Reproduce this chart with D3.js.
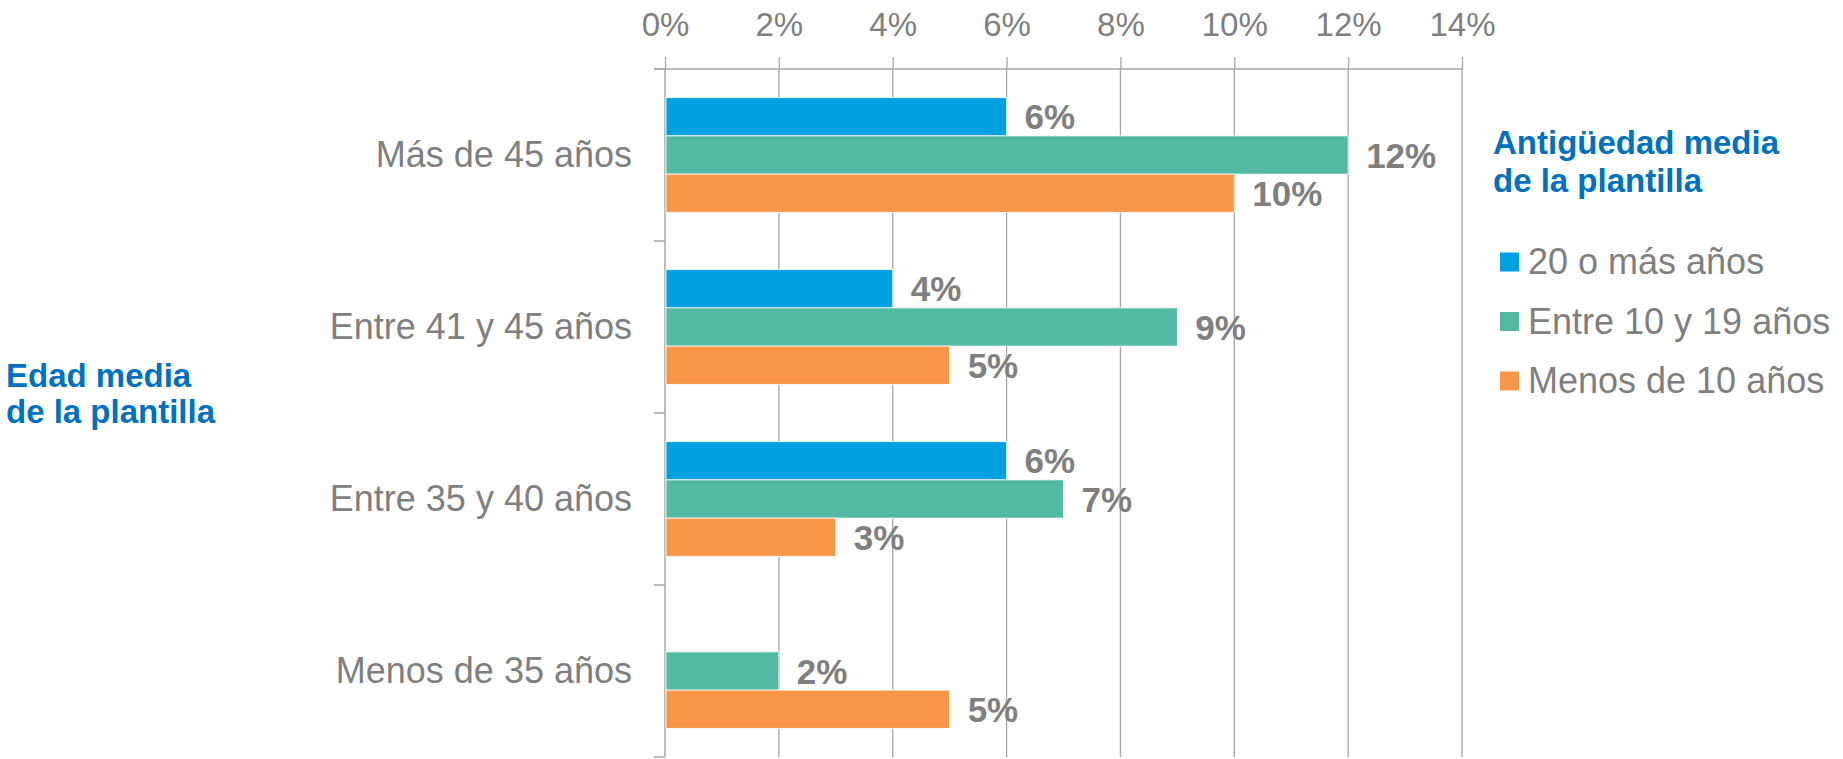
<!DOCTYPE html>
<html>
<head>
<meta charset="utf-8">
<script src="https://cdn.jsdelivr.net/npm/d3@7"></script>
<style>
  body { margin: 0; background: #fff; }
  svg { display: block; font-family: "Liberation Sans", Arial, sans-serif; }
</style>
</head>
<body>
<div id="chart"></div>
<script>
// data
var categories = ["Más de 45 años", "Entre 41 y 45 años", "Entre 35 y 40 años", "Menos de 35 años"];
var seriesNames = ["20 o más años", "Entre 10 y 19 años", "Menos de 10 años"];
var veinteOMas = [6, 4, 6, null];
var entre10y19 = [12, 9, 7, 2];
var menosDe10 = [10, 5, 3, 5];
var tickValues = [0, 2, 4, 6, 8, 10, 12, 14];
var colors = ["#00a0e3", "#53b9a4", "#f79646"];

var svgWidth = 1843;
var svgHeight = 759;

var plot = { left: 665, right: 1462, top: 69, bottom: 757 };

var grey = "#a6a6a6";
var textGrey = "#7f7f7f";
var titleBlue = "#0070c0";

var svg = d3.select("#chart")
    .append("svg")
    .attr("width", svgWidth)
    .attr("height", svgHeight);

var allSeries = [veinteOMas, entre10y19, menosDe10];
var rows = [];
categories.forEach(function(cat, i) {
    seriesNames.forEach(function(s, j) {
        rows.push({ cat: cat, series: s, idx: j, value: allSeries[j][i] });
    });
});

var xScale = d3.scaleLinear()
    .domain([0, 14])
    .range([plot.left, plot.right]);

var yScale = d3.scaleBand()
    .domain(categories)
    .range([plot.top, plot.bottom])
    .padding(0);

var ySub = d3.scaleBand()
    .domain(seriesNames)
    .range([0, yScale.bandwidth()])
    .paddingInner(0)
    .paddingOuter(0.75);

// gridlines
svg.append("g")
    .selectAll("line")
    .data(tickValues.slice(1))
    .enter()
    .append("line")
    .attr("x1", d => xScale(d))
    .attr("x2", d => xScale(d))
    .attr("y1", plot.top)
    .attr("y2", plot.bottom)
    .attr("stroke", grey)
    .attr("stroke-width", 1.3);

// top axis
var topAxis = d3.axisTop(xScale)
    .tickValues(tickValues)
    .tickSize(12)
    .tickSizeOuter(0)
    .tickPadding(21)
    .tickFormat(d => d + "%");

var xAxisG = svg.append("g")
    .attr("transform", `translate(0, ${plot.top})`)
    .call(topAxis);

xAxisG.select(".domain")
    .attr("stroke", grey)
    .attr("stroke-width", 1.5)
    .attr("d", `M${plot.left - 11},0H${plot.right}`);
xAxisG.selectAll(".tick line")
    .attr("stroke", grey)
    .attr("stroke-width", 1.3);
xAxisG.selectAll(".tick text")
    .attr("fill", textGrey)
    .style("font-size", "33px")
    .style("font-family", "Liberation Sans, Arial, sans-serif");

// category axis
var leftAxis = d3.axisLeft(yScale)
    .tickSize(0)
    .tickPadding(33);

var yAxisG = svg.append("g")
    .attr("transform", `translate(${plot.left}, 0)`)
    .call(leftAxis);

yAxisG.select(".domain")
    .attr("stroke", grey)
    .attr("stroke-width", 1.5)
    .attr("d", `M0,${plot.top}V${plot.bottom}`);
yAxisG.selectAll(".tick text")
    .attr("fill", textGrey)
    .attr("dy", "0.32em")
    .style("font-size", "36px")
    .style("font-family", "Liberation Sans, Arial, sans-serif");

// category boundary ticks
var bounds = categories.map(c => yScale(c)).concat([plot.bottom]);
yAxisG.selectAll(".bound")
    .data(bounds)
    .enter()
    .append("line")
    .attr("class", "bound")
    .attr("x1", -11)
    .attr("x2", 0)
    .attr("y1", d => d)
    .attr("y2", d => d)
    .attr("stroke", grey)
    .attr("stroke-width", 1.5);

// bars
var barData = rows.filter(d => d.value !== null);

svg.append("g")
    .selectAll("rect")
    .data(barData)
    .enter()
    .append("rect")
    .attr("x", xScale(0) + 1)
    .attr("y", d => yScale(d.cat) + ySub(d.series))
    .attr("width", d => xScale(d.value) - xScale(0) - 1)
    .attr("height", ySub.bandwidth())
    .attr("fill", d => colors[d.idx])
    .attr("stroke", "#ffffff")
    .attr("stroke-width", 0.8);

// data labels
svg.append("g")
    .selectAll("text")
    .data(barData)
    .enter()
    .append("text")
    .attr("x", d => xScale(d.value) + 18)
    .attr("y", d => yScale(d.cat) + ySub(d.series) + ySub.bandwidth() / 2)
    .attr("dy", "0.36em")
    .attr("fill", textGrey)
    .style("font-size", "35px")
    .style("font-weight", "bold")
    .text(d => d.value + "%");

// left title
var leftTitle = svg.append("text")
    .attr("fill", titleBlue)
    .style("font-size", "33px")
    .style("font-weight", "bold");
leftTitle.append("tspan").attr("x", 6).attr("y", 387).text("Edad media");
leftTitle.append("tspan").attr("x", 6).attr("y", 423).text("de la plantilla");

// legend
var legendTitle = svg.append("text")
    .attr("fill", titleBlue)
    .style("font-size", "33px")
    .style("font-weight", "bold");
legendTitle.append("tspan").attr("x", 1493).attr("y", 154).text("Antigüedad media");
legendTitle.append("tspan").attr("x", 1493).attr("y", 192).text("de la plantilla");

var legend = svg.append("g")
    .selectAll("g")
    .data(seriesNames)
    .enter()
    .append("g")
    .attr("transform", (d, i) => `translate(1500, ${262 + i * 59.5})`);

legend.append("rect")
    .attr("x", 0)
    .attr("y", -9.5)
    .attr("width", 19)
    .attr("height", 19)
    .attr("fill", (d, i) => colors[i]);

legend.append("text")
    .attr("x", 28)
    .attr("y", 12)
    .attr("fill", textGrey)
    .style("font-size", "36px")
    .text(d => d);
</script>
</body>
</html>
